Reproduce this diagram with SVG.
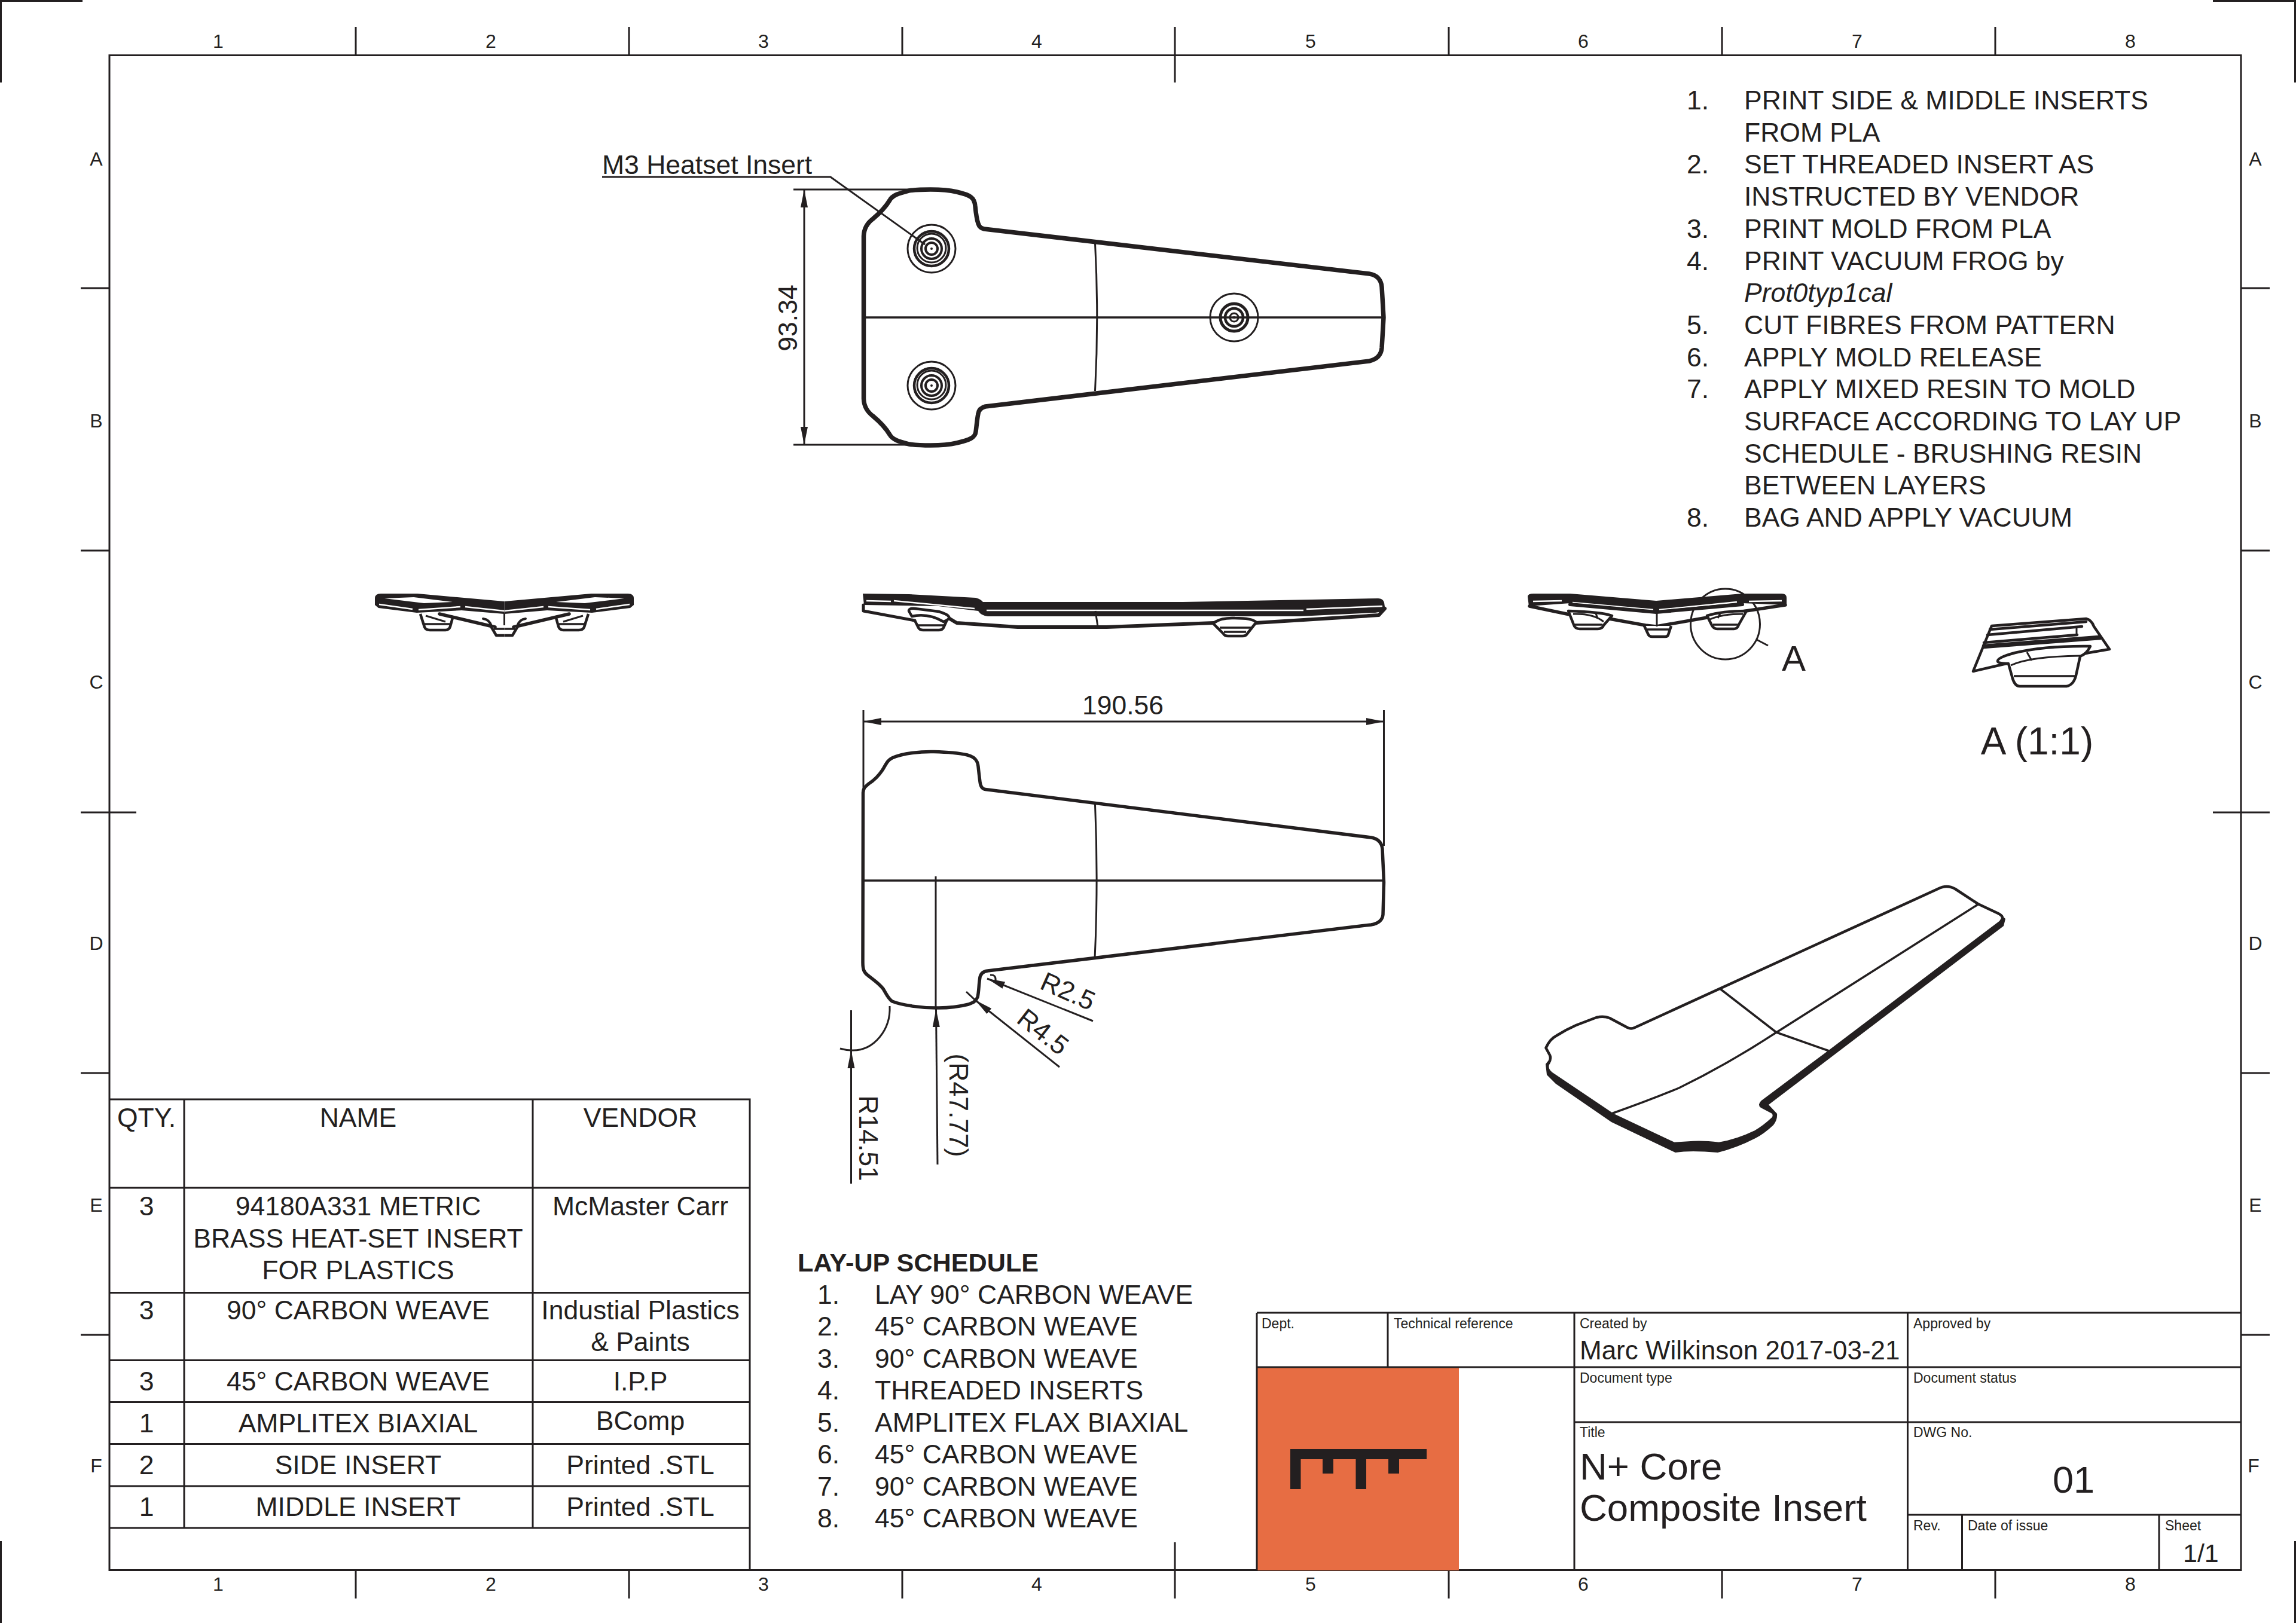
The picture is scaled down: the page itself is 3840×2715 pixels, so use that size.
<svg xmlns="http://www.w3.org/2000/svg" xmlns:xlink="http://www.w3.org/1999/xlink" width="3840" height="2715" viewBox="0 0 3840 2715">
<style>
text{font-family:"Liberation Sans",Arial,sans-serif;fill:#231f20}
.t44{font-size:44.5px}
.m{text-anchor:middle}
.b{font-size:32px}
.s{font-size:23px}
.ln{fill:none;stroke:#231f20;stroke-width:3}
.th{fill:none;stroke:#231f20;stroke-width:3.5}
.o{fill:none;stroke:#231f20;stroke-linejoin:round;stroke-linecap:round}
.k{fill:#231f20}
.w{fill:#fff}
.ws{fill:none;stroke:#fff;stroke-width:2.4}
.f{fill:#fff;stroke:#231f20;stroke-width:4.5;stroke-linejoin:round}
</style>
<defs>
<marker id="ah" markerUnits="userSpaceOnUse" markerWidth="32" markerHeight="16" refX="30" refY="8" orient="auto"><path d="M0,2 L30,8 L0,14 Z" fill="#231f20"/></marker>
<marker id="as" markerUnits="userSpaceOnUse" markerWidth="32" markerHeight="16" refX="0" refY="8" orient="auto"><path d="M30,2 L0,8 L30,14 Z" fill="#231f20"/></marker>
<g id="insert-rings-a"><circle r="40" class="ln"/><circle r="29" fill="none" stroke="#231f20" stroke-width="4.5"/><circle cy="-1" r="24" class="ln" stroke-width="2"/><circle r="17" fill="none" stroke="#231f20" stroke-width="4"/><circle r="10" fill="none" stroke="#231f20" stroke-width="4"/><circle r="2" class="k"/></g>
<g id="insert-rings-b"><circle r="40" class="ln"/><circle r="23" fill="none" stroke="#231f20" stroke-width="5"/><circle r="15" fill="none" stroke="#231f20" stroke-width="4.5"/><circle r="7" fill="none" stroke="#231f20" stroke-width="3"/><circle r="2" class="k"/></g>
<g id="end-half">
<path class="k" d="M627,1001 Q627,993 637,993 L698,993 L843.5,1006 L843.5,1027 L772,1021 L697,1025 L633,1017 L627,1012 Z"/>
<path class="w" d="M643,1001 L692,999 L757,1007 L709,1009 Z"/>
<path class="ws" d="M634,1011 L690,1019 M700,1020 L770,1015 M778,1015 L843.5,1022"/>
<path class="f" d="M703,1027 L710,1049 Q712,1054 719,1054 L745,1054 Q751,1054 753,1048 L758,1030"/>
<path d="M709,1044 L752,1044" class="th" stroke-width="4"/>
<path d="M712,1030 L745,1040" class="ln" stroke-width="3"/>
<path class="o" stroke-width="5.5" d="M735,1027 L828,1049"/>
<path class="o" stroke-width="4" d="M808,1035 Q818,1036 822,1047"/>
<path class="f" d="M820,1046 L830,1063 L843.5,1063"/>
<path d="M826,1052 L843.5,1052" class="th" stroke-width="4"/>
<path d="M843.5,1026 L843.5,1046" class="ln" stroke-width="2.5"/>
</g>
</defs>
<rect width="3840" height="2715" fill="#fff"/>

<g id="frame">
<path class="ln" d="M0,1.5 H138 M1.5,0 V138 M3701,1.5 H3838.5 V138 M1.5,2578 V2715 M3838.5,2578 V2715"/>
<rect x="183" y="92.5" width="3565" height="2534" class="ln" stroke-width="3.5"/>
<path class="ln" d="M595,45 V92 M1052,45 V92 M1509,45 V92 M1965,45 V138 M2423,45 V92 M2880,45 V92 M3337,45 V92 M595,2627 V2674 M1052,2627 V2674 M1509,2627 V2674 M1965,2580 V2674 M2423,2627 V2674 M2880,2627 V2674 M3337,2627 V2674 M135,482 H183 M135,921 H183 M135,1359 H228 M135,1795 H183 M135,2233 H183 M3748,482 H3796 M3748,921 H3796 M3701,1359 H3796 M3748,1795 H3796 M3748,2233 H3796"/>
<g class="b m"><text x="365" y="80">1</text><text x="821" y="80">2</text><text x="1277" y="80">3</text><text x="1734" y="80">4</text><text x="2192" y="80">5</text><text x="2648" y="80">6</text><text x="3106" y="80">7</text><text x="3563" y="80">8</text>
<text x="365" y="2661">1</text><text x="821" y="2661">2</text><text x="1277" y="2661">3</text><text x="1734" y="2661">4</text><text x="2192" y="2661">5</text><text x="2648" y="2661">6</text><text x="3106" y="2661">7</text><text x="3563" y="2661">8</text>
<text x="161" y="277">A</text><text x="161" y="715">B</text><text x="161" y="1152">C</text><text x="161" y="1589">D</text><text x="161" y="2027">E</text><text x="161" y="2463">F</text>
<text x="3772" y="277">A</text><text x="3772" y="715">B</text><text x="3772" y="1152">C</text><text x="3772" y="1589">D</text><text x="3772" y="2027">E</text><text x="3769" y="2463">F</text></g>
</g>

<g id="connectors">
<path class="ln" d="M1007,296 H1389 L1547,409"/>
<path class="ln" d="M1327,317 H1540 M1327,744 H1540"/>
<path class="ln" marker-start="url(#as)" marker-end="url(#ah)" d="M1345,317 V744"/>
<path class="ln" d="M1444,1188 V1323 M2314.5,1188 V1415"/>
<path class="ln" marker-start="url(#as)" marker-end="url(#ah)" d="M1444,1207 H2314.5"/>
<path class="ln" marker-end="url(#ah)" d="M1568,1948 L1565.5,1688"/>
<path class="ln" d="M1565,1688 V1466"/>
<path class="ln" marker-end="url(#ah)" d="M1423.5,1980 V1757"/>
<path class="ln" d="M1423.5,1757 V1690"/>
<path class="ln" d="M1488,1683 C1490,1722 1462,1758 1425,1757 Q1415,1757 1405,1754"/>
<path class="ln" marker-end="url(#ah)" d="M1828,1708 L1651,1637"/>
<path class="ln" d="M1656,1631 Q1666,1630 1665,1640"/>
<path class="ln" marker-end="url(#ah)" d="M1772,1785 L1631,1673"/>
<path class="ln" d="M1631,1673 L1616,1659"/>
<ellipse cx="2885.5" cy="1044" rx="58" ry="59" class="ln"/>
<path class="ln" d="M2938,1070 L2957,1080"/>
</g>

<g id="view-top">
<path class="o" stroke-width="7.5" d="M1444.5,395 C1445,380 1452,372 1460,366 C1472,356 1482,345 1488,335 C1493,326 1505,323 1520,319 C1535,317 1575,315 1600,321 C1622,326 1630,330 1631,345 C1632,355 1633,365 1636,374 C1638,380 1641,382 1646,383 L2290,458 C2303,460 2310,468 2311,480 L2314,531 L2311,582 C2310,594 2303,601 2290,604 L1648,680 C1640,682 1637,686 1636,692 C1634,702 1633,715 1632,722 C1631,732 1622,736 1600,741 C1575,747 1535,745 1520,743 C1505,739 1493,736 1488,727 C1482,717 1472,706 1460,696 C1452,690 1445,682 1444.5,667 Z"/>
<path class="th" stroke-width="4.5" d="M1447,531 H2312"/>
<path class="ln" d="M1831.5,407 Q1838,531 1831.5,654"/>
<use xlink:href="#insert-rings-a" href="#insert-rings-a" x="1558" y="416"/>
<use xlink:href="#insert-rings-a" href="#insert-rings-a" x="1558" y="645"/>
<use xlink:href="#insert-rings-b" href="#insert-rings-b" x="2064" y="531"/>
</g>

<g id="view-end-left">
<use xlink:href="#end-half" href="#end-half"/>
<use xlink:href="#end-half" href="#end-half" transform="translate(1687,0) scale(-1,1)"/>
</g>

<g id="view-side">
<path class="k" d="M1443,993 L1520,994 L1632,1000 Q1640,1002 1644,1007 L1978,1007 L2305,1001 Q2313,1001 2315,1008 L2317,1022 L2300,1025 L2173,1031 L1652,1031 Q1641,1030 1636,1022 L1570,1014 L1445,1012 Z"/>
<path class="ws" d="M1449,1005 L1490,1006 M1495,1005 L1630,1018 M1650,1021 L2000,1021 M2000,1021 L2180,1021 M2185,1019 L2312,1014"/>
<path class="o" stroke-width="5" d="M1444,1012 L1444,1022 L1530,1038"/>
<path class="o" stroke-width="6" d="M1585,1033 L1600,1042 L1702,1049 L1851,1049 L2030,1042 M2100,1042 L2306,1029 L2316,1018"/>
<path class="f" d="M1530,1038 L1536,1050 Q1538,1054 1544,1054 L1570,1054 Q1576,1054 1578,1050 L1587,1030"/>
<path class="f" d="M1520,1022 Q1520,1017 1530,1018 L1570,1023 Q1600,1032 1578,1040 Q1552,1025 1525,1031 Z"/>
<path d="M1535,1046 H1578" class="th" stroke-width="4"/>
<path class="f" d="M2029,1043 Q2040,1033 2065,1034 Q2095,1034 2101,1041 L2086,1060 Q2084,1064 2078,1064 L2054,1064 Q2048,1064 2046,1060 Z"/>
<path d="M2040,1050 H2092 M2047,1057 H2084" class="th" stroke-width="4"/>
<path class="ln" d="M1832,1022 L1836,1048"/>
</g>

<g id="view-end-right">
<path class="k" d="M2555,998 Q2555,993 2565,993 L2626,993 L2770,1005 L2914,993 L2980,993 Q2988,993 2988,1000 L2988,1012 L2914,1009 L2770,1022 L2626,1009 L2557,1014 Z"/>
<path class="ws" d="M2564,1006 L2612,1005 M2630,1008 L2765,1020 M2775,1020 L2905,1007 M2925,1006 L2980,1005"/>
<path class="o" stroke-width="6" d="M2626,1011 L2770,1024 L2914,1011"/>
<path class="o" stroke-width="5.5" d="M2558,1014 L2625,1028 M2680,1033 L2752,1046 L2770,1048 L2855,1033 L2920,1022 L2986,1012"/>
<path class="f" d="M2623,1022 L2632,1045 Q2634,1052 2642,1052 L2672,1052 Q2680,1052 2682,1046 L2696,1030 Q2680,1024 2623,1022 Z"/>
<path class="ln" stroke-width="2.5" d="M2631,1027 Q2665,1026 2682,1040 M2668,1024 L2672,1034"/>
<path d="M2634,1045 H2680" class="th"/>
<path class="f" d="M2750,1047 L2757,1062 Q2759,1065 2763,1065 L2785,1065 Q2789,1065 2790,1062 L2795,1047"/>
<path d="M2755,1053 H2792" class="th"/>
<path class="f" d="M2855,1030 L2863,1046 Q2866,1052 2872,1052 L2900,1052 Q2906,1052 2908,1045 L2921,1022 Q2880,1022 2855,1030 Z"/>
<path class="ln" stroke-width="2.5" d="M2860,1036 Q2880,1027 2915,1027 M2878,1024 L2873,1034"/>
<path d="M2865,1045 H2906" class="th"/>
<path class="ln" stroke-width="2.5" d="M2771,1024 V1048"/>
</g>

<g id="detail-a">
<path class="f" stroke-width="5" d="M3331,1047 L3489,1035 Q3498,1037 3502,1048 L3528,1086 L3493,1092 L3479,1095 L3456,1096 L3356,1110 L3300,1123 Z"/>
<path class="o" stroke-width="4.5" d="M3328,1053 L3489,1040 M3324,1062 L3482,1048 M3318,1075 L3474,1062 M3317,1080 L3510,1065 M3317,1083 L3513,1068"/>
<path class="ln" stroke-width="2.5" d="M3473,1048 V1062"/>
<path class="f" d="M3496,1081 Q3420,1080 3370,1092 Q3340,1100 3341,1106 Q3341,1110 3359,1110 L3366,1135 Q3370,1148 3378,1148 L3456,1148 Q3468,1146 3472,1130 L3479,1098 Q3490,1094 3496,1081 Z"/>
<path class="ln" stroke-width="3.5" d="M3363,1113 Q3395,1098 3479,1097 M3390,1091 L3398,1105"/>
<path class="th" stroke-width="4" d="M3368,1131 H3470"/>
</g>

<g id="view-bottom">
<path class="o" stroke-width="5.5" d="M1443.5,1326 C1444,1318 1447,1316 1453,1311 C1464,1304 1470,1297 1476,1288 C1482,1278 1484,1272 1492,1268 C1510,1260 1540,1257 1562,1257.5 C1585,1258 1605,1260 1618,1263 C1630,1266 1635,1272 1636,1282 C1637,1292 1638,1300 1639,1308 C1640,1316 1643,1320 1648,1320.5 L2293,1401 C2305,1403 2311,1410 2312,1420 L2314.5,1476 L2313,1530 C2312,1540 2305,1545 2293,1547 L1652,1624 C1643,1625 1639,1630 1638.5,1638 C1637,1648 1637,1660 1635,1668 C1632,1675 1628,1677 1620,1680 C1600,1685 1585,1686.5 1565,1686 C1540,1686 1510,1682 1492,1675 C1485,1670 1482,1662 1477,1654 C1470,1645 1462,1640 1452,1632 C1445,1627 1443,1622 1443,1610 Z"/>
<path class="th" stroke-width="4.5" d="M1444,1473 H2314"/>
<path class="ln" d="M1831.5,1346 Q1837,1473 1831,1604"/>
</g>

<g id="view-iso">
<path class="k" d="M3344,1528 L3354,1537 L3351,1549 L2958,1848 L2972,1863 Q2973,1873 2966,1882 Q2950,1897 2936,1904 Q2905,1920 2873,1928 Q2850,1926 2832,1926 Q2815,1926 2802,1928 L2695,1877 L2602,1813 L2587,1798 L2585,1780 L2593,1770 Z"/>
<path class="f" stroke-width="4.5" d="M2585.5,1753 Q2592,1738 2604,1732 Q2620,1722 2636,1715 L2670,1702 Q2682,1699 2692,1703 L2722,1719 Q2728,1722 2734,1719 L3241,1487 Q3256,1479 3270,1487 L3308,1512 L3342,1528 Q3350,1532 3349,1537 L3346,1542 L3062,1757 L2947,1843 Q2942,1848 2946,1851 L2965,1861 Q2969,1866 2965,1871 Q2950,1885 2936,1893 Q2905,1908 2875,1913 Q2850,1910 2832,1911 L2800,1913 L2698,1865 L2594,1795 Q2586,1788 2589,1780 Q2595,1772 2592,1765 Z"/>
<path class="o" stroke-width="3.5" d="M2695,1863 Q2760,1840 2808,1820 Q2890,1780 2971,1727 L3308,1513"/>
<path class="o" stroke-width="3.5" d="M2878,1655 L2971,1727 L3059,1758"/>
</g>

<g id="parts-table" transform="translate(0,2)">
<path class="ln" d="M183,1837 H1254 V2625 M183,1985 H1254 M183,2160.5 H1254 M183,2273.5 H1254 M183,2343.5 H1254 M183,2413.5 H1254 M183,2484 H1254 M183,2554 H1254 M308,1837 V2554 M891,1837 V2554"/>
<g class="t44 m">
<text x="245" y="1883">QTY.</text><text x="599" y="1883">NAME</text><text x="1071" y="1883">VENDOR</text>
<text x="245" y="2031">3</text><text x="599" y="2031">94180A331 METRIC</text><text x="599" y="2085">BRASS HEAT-SET INSERT</text><text x="599" y="2138">FOR PLASTICS</text><text x="1071" y="2031">McMaster Carr</text>
<text x="245" y="2205">3</text><text x="599" y="2205">90° CARBON WEAVE</text><text x="1071" y="2205">Industial Plastics</text><text x="1071" y="2258">&amp; Paints</text>
<text x="245" y="2324">3</text><text x="599" y="2324">45° CARBON WEAVE</text><text x="1071" y="2324">I.P.P</text>
<text x="245" y="2394">1</text><text x="599" y="2394">AMPLITEX BIAXIAL</text><text x="1071" y="2390">BComp</text>
<text x="245" y="2464">2</text><text x="599" y="2464">SIDE INSERT</text><text x="1071" y="2464">Printed .STL</text>
<text x="245" y="2534">1</text><text x="599" y="2534">MIDDLE INSERT</text><text x="1071" y="2534">Printed .STL</text>
</g>
</g>

<g id="title-block" transform="translate(0,2)">
<rect x="2102" y="2284" width="338" height="341" fill="#e76d43"/>
<path class="k" d="M2158,2422 H2386 V2439 H2340 V2463 H2322 V2439 H2285 V2489 H2267.5 V2439 H2230 V2463 H2212 V2439 H2175.5 V2489 H2158 Z"/>
<path class="ln" stroke-width="4" d="M2102,2194 H3748 M2102,2285 H3748 M2633,2377 H3748 M3190.5,2532 H3748"/>
<path class="ln" d="M2102,2194 V2625 M2321,2194 V2285 M2633,2194 V2625 M3190.5,2194 V2625 M3281.5,2532 V2625 M3611,2532 V2625"/>
<g class="s">
<text x="2110" y="2220">Dept.</text><text x="2331" y="2220">Technical reference</text><text x="2642" y="2220">Created by</text><text x="3200" y="2220">Approved by</text>
<text x="2642" y="2311">Document type</text><text x="3200" y="2311">Document status</text>
<text x="2642" y="2402">Title</text><text x="3200" y="2402">DWG No.</text>
<text x="3200" y="2558">Rev.</text><text x="3291" y="2558">Date of issue</text><text x="3621" y="2558">Sheet</text>
</g>
<text x="2642" y="2272" font-size="44">Marc Wilkinson 2017-03-21</text>
<text x="2642" y="2473" font-size="63.5">N+ Core</text>
<text x="2642" y="2542" font-size="63.5">Composite Insert</text>
<text x="3468" y="2495" font-size="63" class="m">01</text>
<text x="3651" y="2611" font-size="43">1/1</text>
</g>

<g id="notes" class="t44" transform="translate(-2,0)">
<text x="2823" y="183">1.</text><text x="2919" y="183">PRINT SIDE &amp; MIDDLE INSERTS</text>
<text x="2919" y="236.7">FROM PLA</text>
<text x="2823" y="290.4">2.</text><text x="2919" y="290.4">SET THREADED INSERT AS</text>
<text x="2919" y="344.1">INSTRUCTED BY VENDOR</text>
<text x="2823" y="397.8">3.</text><text x="2919" y="397.8">PRINT MOLD FROM PLA</text>
<text x="2823" y="451.5">4.</text><text x="2919" y="451.5">PRINT VACUUM FROG by</text>
<text x="2919" y="505.2" font-style="italic">Prot0typ1cal</text>
<text x="2823" y="558.9">5.</text><text x="2919" y="558.9">CUT FIBRES FROM PATTERN</text>
<text x="2823" y="612.6">6.</text><text x="2919" y="612.6">APPLY MOLD RELEASE</text>
<text x="2823" y="666.3">7.</text><text x="2919" y="666.3">APPLY MIXED RESIN TO MOLD</text>
<text x="2919" y="720">SURFACE ACCORDING TO LAY UP</text>
<text x="2919" y="773.7">SCHEDULE - BRUSHING RESIN</text>
<text x="2919" y="827.4">BETWEEN LAYERS</text>
<text x="2823" y="881.1">8.</text><text x="2919" y="881.1">BAG AND APPLY VACUUM</text>
</g>

<g id="layup-schedule" class="t44" transform="translate(0,2)">
<text x="1334" y="2125" font-weight="700" font-size="43.2" style="font-size:43.2px">LAY-UP SCHEDULE</text>
<text x="1367" y="2179">1.</text><text x="1463" y="2179">LAY 90° CARBON WEAVE</text>
<text x="1367" y="2232">2.</text><text x="1463" y="2232">45° CARBON WEAVE</text>
<text x="1367" y="2286">3.</text><text x="1463" y="2286">90° CARBON WEAVE</text>
<text x="1367" y="2339">4.</text><text x="1463" y="2339">THREADED INSERTS</text>
<text x="1367" y="2393">5.</text><text x="1463" y="2393">AMPLITEX FLAX BIAXIAL</text>
<text x="1367" y="2446">6.</text><text x="1463" y="2446">45° CARBON WEAVE</text>
<text x="1367" y="2500">7.</text><text x="1463" y="2500">90° CARBON WEAVE</text>
<text x="1367" y="2553">8.</text><text x="1463" y="2553">45° CARBON WEAVE</text>
</g>

<g id="dimension-labels" class="t44">
<text x="1007" y="291">M3 Heatset Insert</text>
<text class="m" transform="translate(1333,532) rotate(-90)">93.34</text>
<text class="m" x="1878" y="1195">190.56</text>
<text class="m" transform="translate(1588,1849) rotate(90)">(R47.77)</text>
<text class="m" transform="translate(1437,1904) rotate(90)">R14.51</text>
<text class="m" transform="translate(1780,1672) rotate(24)">R2.5</text>
<text class="m" transform="translate(1735,1738) rotate(38)">R4.5</text>
<text x="3000" y="1122" font-size="60" class="m">A</text>
<text x="3407" y="1262" font-size="64" class="m">A (1:1)</text>
</g>
</svg>
